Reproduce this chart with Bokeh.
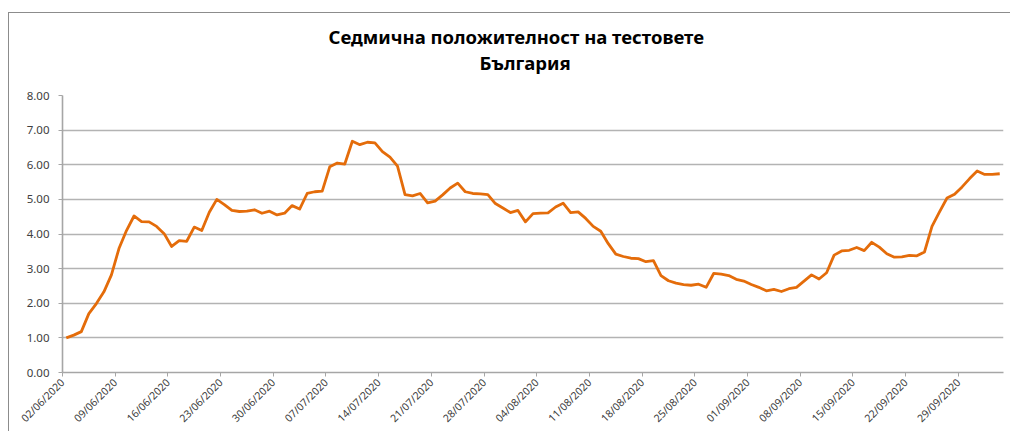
import pandas as pd
from bokeh.plotting import figure
from bokeh.models import Range1d, FixedTicker, ColumnDataSource, Title
from bokeh.embed import file_html
from bokeh.resources import INLINE

# ---- data ----
start_date = "2020-06-02"
positivity = [
    1.00, 1.08, 1.18, 1.70, 1.99, 2.33, 2.82, 3.58, 4.10, 4.52, 4.36, 4.35, 4.22, 4.01, 3.64, 3.81, 3.79, 4.20, 4.10, 4.63, 5.00,
    4.85, 4.68, 4.65, 4.66, 4.70, 4.60, 4.66, 4.55, 4.60, 4.82, 4.72, 5.17, 5.22, 5.24, 5.94, 6.05, 6.02, 6.68, 6.58, 6.65, 6.63,
    6.38, 6.22, 5.96, 5.14, 5.10, 5.17, 4.90, 4.95, 5.13, 5.33, 5.47, 5.22, 5.17, 5.16, 5.14, 4.88, 4.75, 4.62, 4.68, 4.35, 4.59, 4.60,
    4.61, 4.78, 4.89, 4.62, 4.64, 4.45, 4.22, 4.08, 3.72, 3.42, 3.35, 3.30, 3.29, 3.20, 3.23, 2.80, 2.65, 2.58, 2.54, 2.52, 2.55, 2.46,
    2.86, 2.84, 2.80, 2.69, 2.64, 2.54, 2.46, 2.36, 2.40, 2.34, 2.42, 2.46, 2.64, 2.82, 2.70, 2.88, 3.39, 3.51, 3.53, 3.61, 3.52,
    3.76, 3.62, 3.43, 3.33, 3.34, 3.38, 3.37, 3.48, 4.22, 4.64, 5.04, 5.15, 5.36, 5.60, 5.82, 5.72, 5.72, 5.74,
]
tick_labels = ["02/06/2020", "09/06/2020", "16/06/2020", "23/06/2020", "30/06/2020",
               "07/07/2020", "14/07/2020", "21/07/2020", "28/07/2020", "04/08/2020",
               "11/08/2020", "18/08/2020", "25/08/2020", "01/09/2020", "08/09/2020",
               "15/09/2020", "22/09/2020", "29/09/2020"]
y_ticks = [0, 1, 2, 3, 4, 5, 6, 7, 8]
title_line1 = "Седмична положителност на тестовете"
title_line2 = "България"

dates = pd.date_range(start_date, periods=len(positivity))
idx = [i + 0.5 for i in range(len(positivity))]
src = ColumnDataSource(dict(x=idx, y=positivity))

tick_pos = [int((pd.to_datetime(t, format="%d/%m/%Y") - dates[0]).days) for t in tick_labels]

FONT = "Noto Sans"

p = figure(width=1002, height=419, output_backend="svg", toolbar_location=None,
           x_range=Range1d(0, len(positivity)), y_range=Range1d(0, 8),
           min_border_left=53, min_border_right=8, min_border_top=82, min_border_bottom=60,
           margin=(12, 0, 0, 8),
           styles={"border-top": "1px solid #8c8c8c", "border-left": "1px solid #8c8c8c"})
p.outline_line_color = None
p.background_fill_color = "white"
p.border_fill_color = "white"

p.line("x", "y", source=src, line_color="#E46C0A", line_width=2.8, line_join="round")

p.xgrid.visible = False
p.ygrid.ticker = FixedTicker(ticks=y_ticks)
p.ygrid.grid_line_color = "#b3b3b3"
p.ygrid.grid_line_width = 1.6

p.yaxis.ticker = FixedTicker(ticks=y_ticks)
p.yaxis.major_label_overrides = {t: f"{t:.2f}" for t in y_ticks}
p.yaxis.axis_line_color = "#a6a6a6"
p.yaxis.axis_line_width = 1.6
p.yaxis.major_tick_line_color = "#a6a6a6"
p.yaxis.major_tick_out = 4
p.yaxis.major_tick_in = 0
p.yaxis.minor_tick_line_color = None
p.yaxis.major_label_text_font = FONT
p.yaxis.major_label_text_font_size = "11.5px"
p.yaxis.major_label_text_color = "#404040"
p.yaxis.major_label_standoff = 9

p.xaxis.ticker = FixedTicker(ticks=tick_pos)
p.xaxis.major_label_overrides = {tp: lab for tp, lab in zip(tick_pos, tick_labels)}
p.xaxis.major_label_orientation = 0.785398
p.xaxis.axis_line_color = "#a6a6a6"
p.xaxis.axis_line_width = 1.6
p.xaxis.major_tick_line_color = "#a6a6a6"
p.xaxis.major_tick_out = 4
p.xaxis.major_tick_in = 0
p.xaxis.minor_tick_line_color = None
p.xaxis.major_label_text_font = FONT
p.xaxis.major_label_text_font_size = "10.5px"
p.xaxis.major_label_text_color = "#404040"
p.xaxis.major_label_standoff = 4

# titles: first added sits nearest the frame
p.add_layout(Title(text=title_line2, align="left", offset=417, text_font=FONT,
                   text_font_style="bold", text_font_size="18.5px", text_color="black",
                   standoff=42), "above")
p.add_layout(Title(text=title_line1, align="left", offset=266, text_font=FONT,
                   text_font_style="bold", text_font_size="18.5px", text_color="black",
                   standoff=-44), "above")

open("out.html", "w").write(file_html(p, INLINE))
